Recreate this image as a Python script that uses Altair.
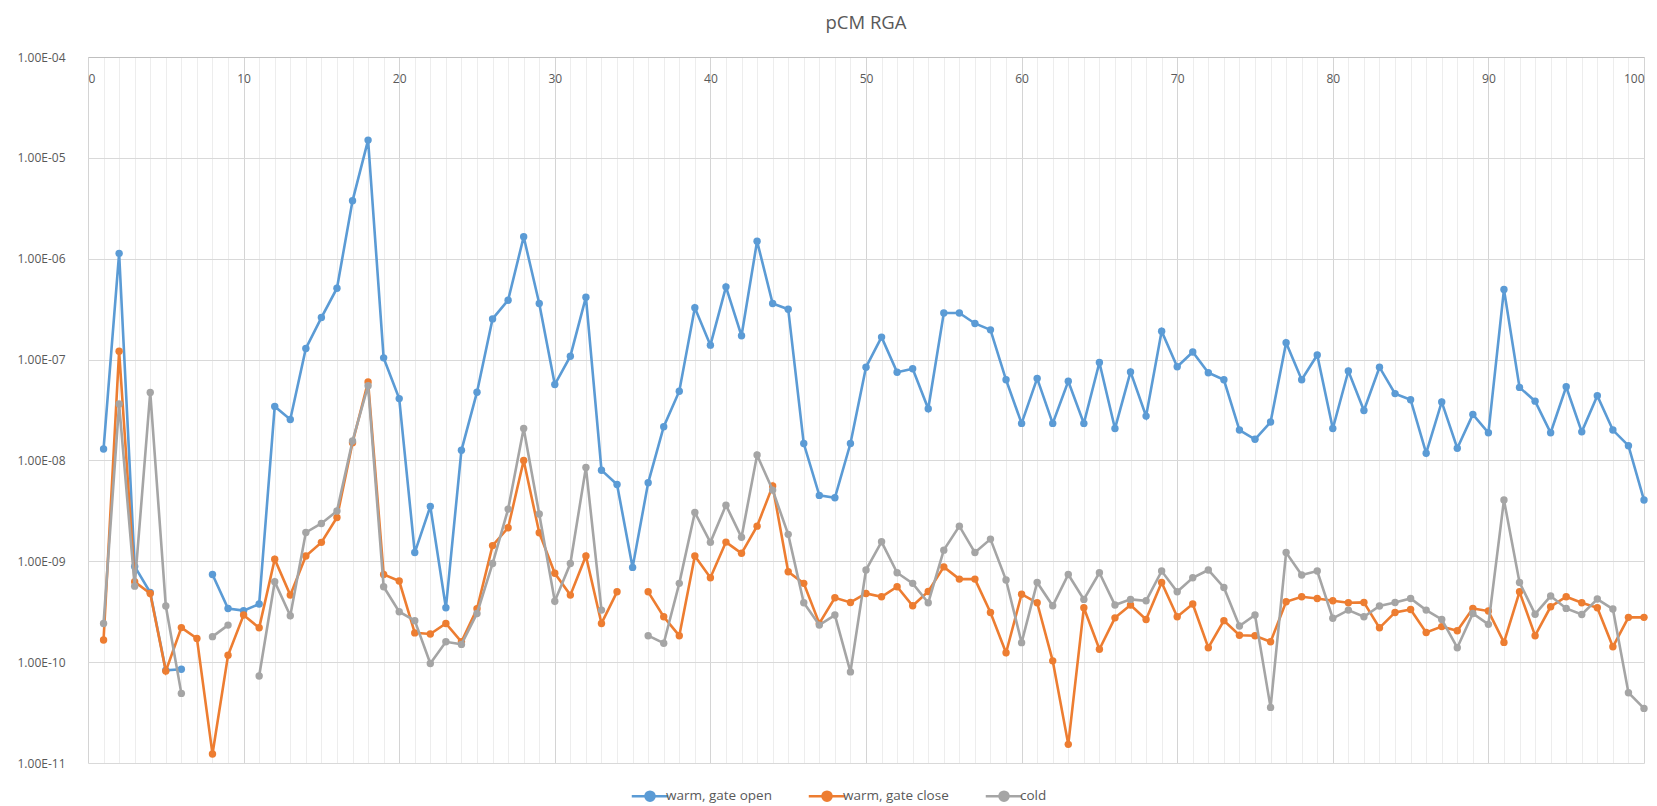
import altair as alt
import pandas as pd

x_values = list(range(1, 101))

series_names = ["warm, gate open", "warm, gate close", "cold"]
series_colors = ["#5B9BD5", "#ED7D31", "#A5A5A5"]

warm_open = [
    1.3e-8, 1.13e-6, 8.9e-10, 4.9e-10, 8.3e-11, 8.5e-11, None, 7.4e-10, 3.4e-10, 3.24e-10,
    3.77e-10, 3.43e-8, 2.55e-8, 1.29e-7, 2.61e-7, 5.1e-7, 3.75e-6, 1.5e-5, 1.04e-7, 4.1e-8,
    1.22e-9, 3.5e-9, 3.46e-10, 1.26e-8, 4.75e-8, 2.53e-7, 3.88e-7, 1.65e-6, 3.6e-7, 5.66e-8,
    1.08e-7, 4.16e-7, 8.0e-9, 5.78e-9, 8.7e-10, 6.0e-9, 2.16e-8, 4.86e-8, 3.26e-7, 1.39e-7,
    5.26e-7, 1.72e-7, 1.49e-6, 3.6e-7, 3.16e-7, 1.47e-8, 4.5e-9, 4.26e-9, 1.47e-8, 8.4e-8,
    1.67e-7, 7.5e-8, 8.1e-8, 3.25e-8, 2.9e-7, 2.9e-7, 2.28e-7, 1.97e-7, 6.3e-8, 2.33e-8,
    6.5e-8, 2.33e-8, 6.1e-8, 2.33e-8, 9.35e-8, 2.07e-8, 7.55e-8, 2.75e-8, 1.91e-7, 8.5e-8,
    1.19e-7, 7.4e-8, 6.3e-8, 2.0e-8, 1.62e-8, 2.4e-8, 1.47e-7, 6.3e-8, 1.11e-7, 2.07e-8,
    7.7e-8, 3.13e-8, 8.4e-8, 4.6e-8, 4.0e-8, 1.18e-8, 3.8e-8, 1.32e-8, 2.86e-8, 1.88e-8,
    4.95e-7, 5.3e-8, 3.87e-8, 1.88e-8, 5.37e-8, 1.92e-8, 4.38e-8, 2.0e-8, 1.4e-8, 4.05e-9,
]

warm_close = [
    1.66e-10, 1.21e-7, 6.27e-10, 4.8e-10, 8.15e-11, 2.2e-10, 1.72e-10, 1.23e-11, 1.17e-10, 2.93e-10,
    2.19e-10, 1.05e-9, 4.62e-10, 1.13e-9, 1.54e-9, 2.72e-9, 1.5e-8, 6.0e-8, 7.4e-10, 6.37e-10,
    1.95e-10, 1.9e-10, 2.42e-10, 1.59e-10, 3.38e-10, 1.43e-9, 2.15e-9, 1.0e-8, 1.92e-9, 7.6e-10,
    4.62e-10, 1.13e-9, 2.42e-10, 4.98e-10, None, 4.98e-10, 2.82e-10, 1.83e-10, 1.13e-9, 6.87e-10,
    1.55e-9, 1.2e-9, 2.23e-9, 5.57e-9, 7.87e-10, 6.04e-10, 2.42e-10, 4.35e-10, 3.91e-10, 4.8e-10,
    4.45e-10, 5.6e-10, 3.62e-10, 5.02e-10, 8.8e-10, 6.66e-10, 6.66e-10, 3.11e-10, 1.24e-10, 4.72e-10,
    3.88e-10, 1.03e-10, 1.53e-11, 3.46e-10, 1.34e-10, 2.75e-10, 3.68e-10, 2.65e-10, 6.17e-10, 2.82e-10,
    3.77e-10, 1.39e-10, 2.58e-10, 1.85e-10, 1.83e-10, 1.59e-10, 3.97e-10, 4.45e-10, 4.28e-10, 4.06e-10,
    3.88e-10, 3.91e-10, 2.19e-10, 3.11e-10, 3.33e-10, 1.97e-10, 2.25e-10, 2.05e-10, 3.41e-10, 3.21e-10,
    1.57e-10, 4.98e-10, 1.83e-10, 3.54e-10, 4.45e-10, 3.88e-10, 3.46e-10, 1.42e-10, 2.78e-10, 2.78e-10,
]

cold = [
    2.42e-10, 3.62e-8, 5.67e-10, 4.72e-8, 3.6e-10, 4.9e-11, None, 1.79e-10, 2.33e-10, None,
    7.3e-11, 6.27e-10, 2.88e-10, 1.93e-9, 2.37e-9, 3.15e-9, 1.56e-8, 5.5e-8, 5.59e-10, 3.16e-10,
    2.58e-10, 9.7e-11, 1.59e-10, 1.5e-10, 3.04e-10, 9.5e-10, 3.29e-9, 2.07e-8, 2.94e-9, 4.02e-10,
    9.5e-10, 8.5e-9, 3.28e-10, None, None, 1.83e-10, 1.54e-10, 6.04e-10, 3.05e-9, 1.54e-9,
    3.6e-9, 1.73e-9, 1.13e-8, 5.08e-9, 1.85e-9, 3.88e-10, 2.33e-10, 2.93e-10, 8.0e-11, 8.2e-10,
    1.56e-9, 7.7e-10, 6.04e-10, 3.88e-10, 1.29e-9, 2.23e-9, 1.22e-9, 1.66e-9, 6.52e-10, 1.56e-10,
    6.17e-10, 3.62e-10, 7.4e-10, 4.19e-10, 7.7e-10, 3.68e-10, 4.19e-10, 4.06e-10, 8.0e-10, 4.98e-10,
    6.87e-10, 8.2e-10, 5.5e-10, 2.28e-10, 2.93e-10, 3.56e-11, 1.22e-9, 7.3e-10, 8.0e-10, 2.72e-10,
    3.28e-10, 2.82e-10, 3.6e-10, 3.91e-10, 4.28e-10, 3.28e-10, 2.65e-10, 1.39e-10, 3.04e-10, 2.37e-10,
    4.05e-9, 6.17e-10, 2.99e-10, 4.52e-10, 3.41e-10, 2.97e-10, 4.22e-10, 3.36e-10, 4.98e-11, 3.48e-11,
]

y_ticks = [1e-11, 1e-10, 1e-9, 1e-8, 1e-7, 1e-6, 1e-5, 1e-4]
x_ticks = list(range(0, 101))

rows = []
for name, vals in zip(series_names, [warm_open, warm_close, cold]):
    seg = 0
    for x, v in zip(x_values, vals):
        if v is None:
            seg += 1
            continue
        rows.append({"x": x, "value": v, "series": name, "seg": f"{name}-{seg}"})
df = pd.DataFrame(rows)

FONT = "Open Sans"
LBL = "#595959"

x_enc = alt.X(
    "x:Q",
    scale=alt.Scale(domain=[0, 100], nice=False, zero=False),
    axis=alt.Axis(
        orient="top", values=x_ticks, title=None, ticks=False,
        domain=True, domainColor="#bfbfbf", domainWidth=1,
        labelExpr="datum.value % 10 === 0 ? datum.label : ''",
        labelOverlap=False, labelPadding=-21, labelBaseline="middle",
        labelColor=LBL, labelFontSize=12, labelFont=FONT,
        gridColor={"condition": {"test": "datum.value % 10 === 0", "value": "#d4d4d4"},
                   "value": "#ededed"},
        gridWidth=1,
    ),
)

exp_expr = "abs(round(log(datum.value) / LN10))"
y_enc = alt.Y(
    "value:Q",
    scale=alt.Scale(type="log", domain=[1e-11, 1e-4], nice=False),
    axis=alt.Axis(
        values=y_ticks, title=None, ticks=False, domain=False,
        labelExpr=f"'1.00E-' + ({exp_expr} < 10 ? '0' : '') + {exp_expr}",
        labelAlign="left", labelPadding=71, labelBaseline="middle",
        labelColor=LBL, labelFontSize=12, labelFont=FONT,
        gridColor="#d9d9d9", gridWidth=1,
    ),
)

legend = alt.Legend(
    orient="none", legendX=549, legendY=726, direction="horizontal", title=None,
    symbolType="M-1.6,0 L1.6,0 M-0.4,0 A0.4,0.4 0 1,0 0.4,0 A0.4,0.4 0 1,0 -0.4,0 Z",
    symbolSize=520, symbolStrokeWidth=2.5, labelFontSize=13.5, labelFont=FONT,
    labelColor=LBL, columnPadding=31, labelOffset=3,
)

color_enc = alt.Color(
    "series:N",
    scale=alt.Scale(domain=series_names, range=series_colors),
    legend=legend,
)

base = alt.Chart(df)
layers = []
for name in series_names:
    sub = base.transform_filter(alt.datum.series == name)
    layers.append(
        sub.mark_line(strokeWidth=2.6).encode(
            x=x_enc, y=y_enc, color=color_enc, detail="seg:N", order="x:Q"
        )
    )
    layers.append(
        sub.mark_point(filled=True, size=55, opacity=1).encode(
            x=x_enc, y=y_enc, color=color_enc
        )
    )

chart = alt.layer(*layers).properties(
    width=1556, height=706,
    autosize=alt.AutoSizeParams(type="none"),
    padding={"left": 80, "top": 49, "right": 5, "bottom": 43},
    title=alt.Title("pCM RGA", fontSize=18.5, font=FONT, fontWeight="normal",
                    color=LBL, anchor="middle", offset=19),
).configure_view(stroke=None).configure_axis(labelFont=FONT)

chart.save("out.html", embed_options={"renderer": "svg", "actions": False})
